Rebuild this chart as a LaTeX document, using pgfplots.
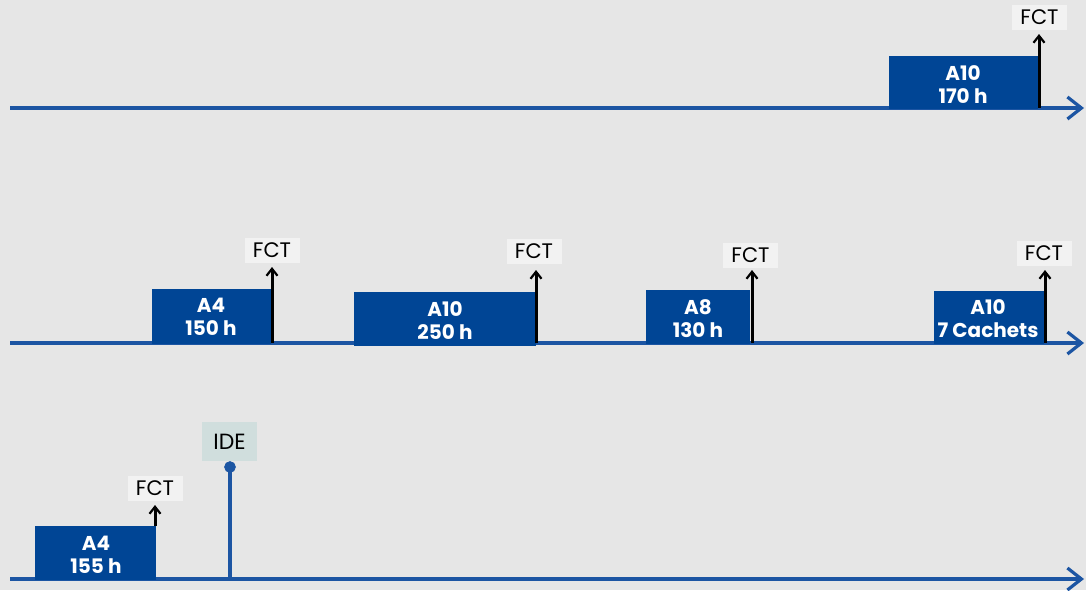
\documentclass[border=0pt]{standalone}
\usepackage{pgfplots}
\pgfplotsset{compat=1.18}
\usepackage{fontspec}
\setmainfont{Poppins}
\usetikzlibrary{arrows.meta}
\definecolor{bg}{HTML}{E6E6E6}
\definecolor{barblue}{HTML}{004595}
\definecolor{lineblue}{HTML}{1C55A3}
\definecolor{fctbg}{HTML}{F2F2F2}
\definecolor{idebg}{HTML}{D0DEDD}
\tikzset{
  bar/.style={fill=barblue, draw=none},
  tl/.style={lineblue, line width=1.7pt, -{Straight Barb[length=7pt, width=11pt, line width=1.6pt]}},
  fct/.style={black, line width=1.5pt, -{Straight Barb[length=3.5pt, width=5.5pt, line width=1.1pt]}},
  fctlab/.style={fill=fctbg, inner sep=0pt, minimum width=27.5pt, minimum height=12.5pt, font=\fontsize{10.5}{11}\selectfont},
  barlab/.style={white, align=center, font=\fontsize{10}{11.5}\selectfont\bfseries},
}
\begin{document}
\begin{tikzpicture}
\begin{axis}[
  width=543pt, height=295pt, scale only axis,
  xmin=0, xmax=1086, ymin=0, ymax=590, y dir=reverse,
  axis lines=none, clip=false,
  axis background/.style={fill=bg},
]
% timelines
\addplot[tl] coordinates {(10,108) (1084,108)};
\addplot[tl] coordinates {(10,343) (1084,343)};
\addplot[tl] coordinates {(10,579) (1084,579)};
% bars row 1
\addplot[bar] coordinates {(889,56) (1038,56) (1038,109) (889,109)} -- cycle;
% bars row 2
\addplot[bar] coordinates {(152,289) (271,289) (271,344) (152,344)} -- cycle;
\addplot[bar] coordinates {(354,292) (536,292) (536,346) (354,346)} -- cycle;
\addplot[bar] coordinates {(646,290) (750,290) (750,344) (646,344)} -- cycle;
\addplot[bar] coordinates {(934,291) (1044,291) (1044,344) (934,344)} -- cycle;
% bar row 3
\addplot[bar] coordinates {(35,526) (156,526) (156,580) (35,580)} -- cycle;
% FCT arrows
\addplot[fct] coordinates {(1039,108) (1039,34)};
\addplot[fct] coordinates {(272,343) (272,267)};
\addplot[fct] coordinates {(536,343) (536,270)};
\addplot[fct] coordinates {(752,343) (752,270)};
\addplot[fct] coordinates {(1045,343) (1045,270)};
\addplot[fct] coordinates {(155,526) (155,505)};
% IDE stem
\addplot[lineblue, line width=1.7pt] coordinates {(230,579) (230,467)};
\addplot[lineblue, only marks, mark=*, mark size=2.7pt] coordinates {(230,467)};
% labels
\node[barlab] at (axis cs:963,85) {A10\\170 h};
\node[barlab] at (axis cs:211,317) {A4\\150 h};
\node[barlab] at (axis cs:445,321) {A10\\250 h};
\node[barlab] at (axis cs:698,319) {A8\\130 h};
\node[barlab] at (axis cs:988,319) {A10\\7 Cachets};
\node[barlab] at (axis cs:96,555) {A4\\155 h};
\node[fctlab] at (axis cs:1039.5,17.5) {FCT};
\node[fctlab] at (axis cs:272,250) {FCT};
\node[fctlab] at (axis cs:534,251.5) {FCT};
\node[fctlab] at (axis cs:750.5,255) {FCT};
\node[fctlab] at (axis cs:1044,253.5) {FCT};
\node[fctlab] at (axis cs:155,488.5) {FCT};
\node[fill=idebg, inner sep=0pt, minimum width=27.5pt, minimum height=19.5pt, font=\fontsize{11}{12}\selectfont] at (axis cs:229.5,441.5) {IDE};
\end{axis}
\pgfresetboundingbox
\path (0,0) rectangle (543pt,295pt);
\end{tikzpicture}
\end{document}
